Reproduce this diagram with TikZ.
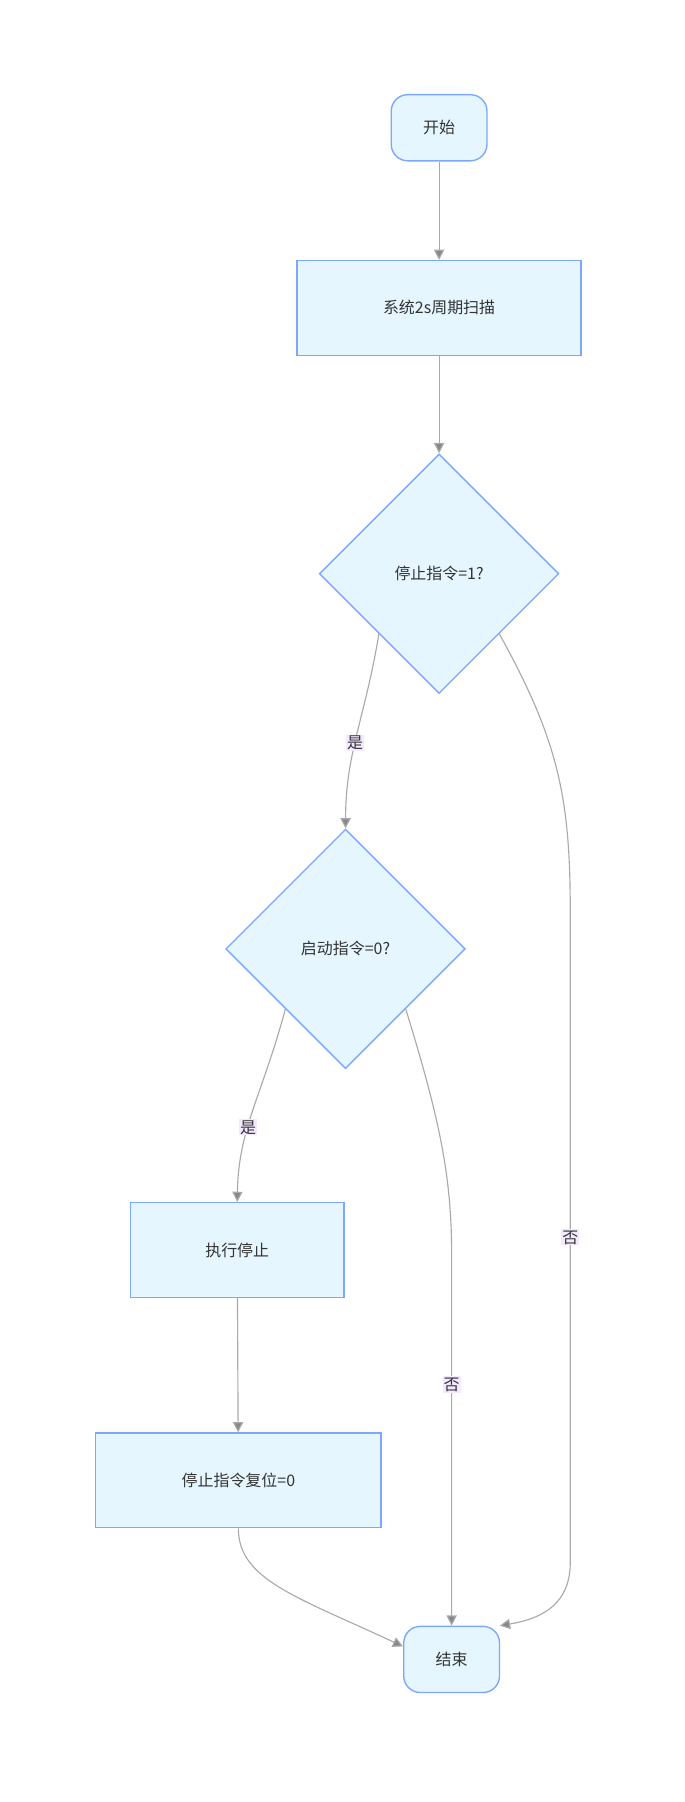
\documentclass[tikz,border=0pt]{standalone}
\usepackage{fontspec}
\setmainfont{Noto Sans CJK SC}
\usetikzlibrary{arrows.meta,shapes.geometric}
\definecolor{boxfill}{HTML}{E6F6FF}
\definecolor{boxline}{HTML}{7BA7FF}
\definecolor{edgeline}{HTML}{AAAAAA}
\definecolor{labelbg}{HTML}{F3E8FF}
\tikzset{
  >={Triangle[length=9pt,width=9pt,fill=edgeline!80!black]},
  base box/.style = {draw=boxline, fill=boxfill, line width=1.2pt,
                     font=\fontsize{14}{16}\selectfont, text=black!80},
  terminal/.style = {base box, rounded corners=14.5pt,
                     minimum width=84pt, minimum height=58pt},
  process/.style = {base box, rectangle, minimum height=83pt},
  decision/.style = {base box, diamond, minimum width=210pt, minimum height=210pt,
                     inner sep=0},
  flow/.style = {draw=edgeline, line width=1pt, ->},
  edge label/.style = {fill=labelbg, inner sep=1pt, text=black!80,
                       font=\fontsize{14}{16}\selectfont},
}
\begin{document}
\begin{tikzpicture}[x=1pt,y=-1pt]
\useasboundingbox (0,0) rectangle (600,1580);
\node[terminal] (start) at (385,112) {开始};
\node[process, minimum width=249pt] (scan) at (385,270) {系统2s周期扫描};
\node[decision] (stopq) at (385,503) {停止指令=1?};
\node[decision] (runq) at (303,832) {启动指令=0?};
\node[process, minimum width=187pt] (halt) at (208,1096) {执行停止};
\node[process, minimum width=250pt] (reset) at (209,1298) {停止指令复位=0};
\node[terminal] (end) at (396,1455) {结束};

\draw[flow] (start) -- (scan);
\draw[flow] (scan) -- (stopq);
\draw[flow] (stopq.225) .. controls (320,630) and (303,660) .. node[edge label, pos=0.55] {是} (runq.north);
\draw[flow] (stopq.315) .. controls (490,650) and (500,700) .. (500,800)
  -- node[edge label, pos=0.5] {否} (500,1370) .. controls (500,1410) and (470,1420) .. (end.35);
\draw[flow] (runq.225) .. controls (230,960) and (209,990) .. node[edge label, pos=0.6] {是} (halt.north);
\draw[flow] (runq.315) .. controls (385,980) and (396,1030) .. (396,1100)
  -- node[edge label, pos=0.35] {否} (end.north);
\draw[flow] (halt) -- (reset);
\draw[flow] (reset.south) .. controls (209,1385) and (260,1400) .. (end.165);
\end{tikzpicture}
\end{document}
